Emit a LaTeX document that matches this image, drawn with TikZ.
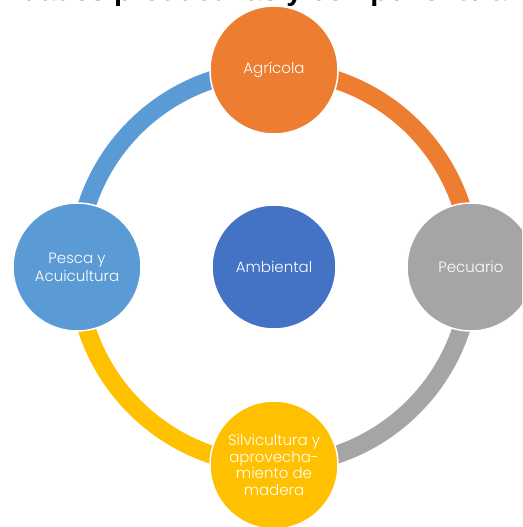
\documentclass[tikz,border=0pt]{standalone}
\usepackage{fontspec}
\setmainfont{Poppins Light}
\newfontfamily\titlefont{Liberation Sans}
\usetikzlibrary{backgrounds}
\definecolor{cOrange}{HTML}{ED7D31}
\definecolor{cGray}{HTML}{A5A5A5}
\definecolor{cYellow}{HTML}{FFC000}
\definecolor{cBlue}{HTML}{5B9BD5}
\definecolor{cDark}{HTML}{4472C4}
\begin{document}
\begin{tikzpicture}[x=1pt,y=1pt,
  bubble/.style={circle, draw=white, line width=1.5pt, minimum size=128pt, inner sep=0pt,
    text=white, font=\fontsize{15}{16.5}\selectfont, align=center},
  ringarc/.style={line width=18pt}]
\useasboundingbox (0,0) rectangle (522,-527);
\clip (0,0) rectangle (522,-527);
\node[anchor=base west, inner sep=0pt, font=\titlefont\bfseries\fontsize{29}{32}\selectfont] (title) at (22,-1) {dades productivas y componente a};
\node[bubble, fill=cOrange] (agri) at (274,-70) {Agrícola};
\node[bubble, fill=cGray] (pecu) at (471,-267) {Pecuario};
\node[bubble, fill=cYellow] (silv) at (274,-465) {Silvicultura y\\aprovecha-\\miento de\\madera};
\node[bubble, fill=cBlue, font=\fontsize{15}{18}\selectfont] (pesc) at (77,-267) {Pesca y\\Acuicultura};
\node[bubble, fill=cDark, minimum size=124pt] (amb) at (274,-267) {Ambiental};
\begin{scope}[on background layer]
\draw[ringarc, cOrange] (agri.center) to[bend left=45] (pecu.center);
\draw[ringarc, cGray] (pecu.center) to[bend left=45] (silv.center);
\draw[ringarc, cYellow] (silv.center) to[bend left=45] (pesc.center);
\draw[ringarc, cBlue] (pesc.center) to[bend left=45] (agri.center);
\end{scope}
\end{tikzpicture}
\end{document}
